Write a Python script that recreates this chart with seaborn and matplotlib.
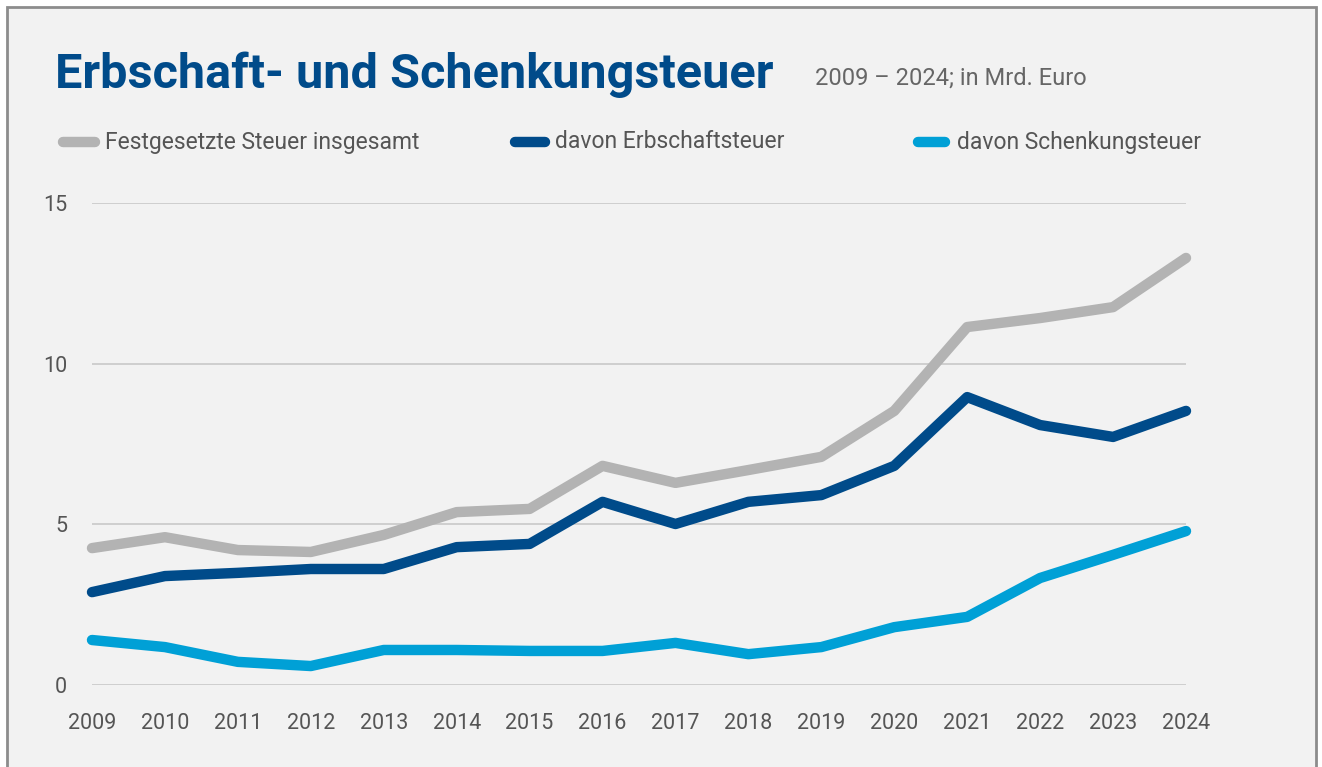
import matplotlib
matplotlib.use("Agg")
import matplotlib.pyplot as plt
from matplotlib.patches import Rectangle
from matplotlib.lines import Line2D
import pandas as pd
import seaborn as sns

# Daten (Mrd. Euro)
jahre = list(range(2009, 2025))
gesamt = [4.26, 4.60, 4.20, 4.14, 4.67, 5.38, 5.48, 6.82, 6.29, 6.69, 7.10, 8.53, 11.14, 11.42, 11.76, 13.29]
erbschaft = [2.89, 3.39, 3.49, 3.61, 3.61, 4.29, 4.39, 5.70, 5.01, 5.70, 5.91, 6.82, 8.96, 8.09, 7.72, 8.53]
schenkung = [1.40, 1.18, 0.72, 0.59, 1.09, 1.09, 1.06, 1.06, 1.31, 0.96, 1.18, 1.80, 2.12, 3.33, 4.05, 4.79]
serien = ["Festgesetzte Steuer insgesamt", "davon Erbschaftsteuer", "davon Schenkungsteuer"]
farben = ["#b3b3b3", "#004b8a", "#00a0d6"]

df = pd.DataFrame({"Jahr": jahre, serien[0]: gesamt, serien[1]: erbschaft, serien[2]: schenkung})
df = df.melt("Jahr", var_name="Serie", value_name="Wert")

sns.set_style("white")
plt.rcParams["font.family"] = ["Roboto", "DejaVu Sans"]

W, H = 1322, 767
fig = plt.figure(figsize=(W / 100, H / 100), dpi=100, facecolor="white")
fig.patches.append(Rectangle((7 / W, -0.1), (1316 - 7) / W, 1.1 - 7 / H, transform=fig.transFigure,
                             facecolor="#f2f2f2", edgecolor="#8c8c8c", linewidth=2, zorder=-10))

ax = fig.add_axes([92 / W, 1 - 685 / H, (1186 - 92) / W, (685 - 203) / H])
ax.set_facecolor("none")
sns.lineplot(data=df, x="Jahr", y="Wert", hue="Serie", hue_order=serien, palette=farben,
             linewidth=7.5, ax=ax, legend=False)
for line in ax.lines:
    line.set_solid_capstyle("round")
    line.set_solid_joinstyle("round")
    line.set_clip_on(False)

ax.set_xlim(2009, 2024)
ax.set_ylim(0, 15)
ax.set_yticks([0, 5, 10, 15])
ax.set_xticks(jahre)
ax.yaxis.grid(True, color="#c8c8c8", linewidth=1.2)
ax.set_axisbelow(True)
for s in ax.spines.values():
    s.set_visible(False)
ax.tick_params(axis="both", length=0, labelsize=15.5, labelcolor="#555555")
ax.tick_params(axis="y", pad=18)
ax.tick_params(axis="x", pad=20)
ax.set_xlabel("")
ax.set_ylabel("")

fig.text(55 / W, 1 - 88 / H, "Erbschaft- und Schenkungsteuer", fontsize=35, fontweight="bold",
         color="#004b8a", va="baseline")
fig.text(815 / W, 1 - 85 / H, "2009 – 2024; in Mrd. Euro", fontsize=17, color="#666666", va="baseline")

# Legende
leg_x = [(63, 95, 105), (515, 545, 555), (918, 945, 957)]
for (x0, x1, xt), farbe, name in zip(leg_x, farben, serien):
    fig.add_artist(Line2D([x0 / W, x1 / W], [1 - 142 / H] * 2, color=farbe, linewidth=7.5,
                          solid_capstyle="round", transform=fig.transFigure))
    fig.text(xt / W, 1 - 142 / H, name, fontsize=16.5, color="#555555", va="center")

fig.savefig("out.png", dpi=100, facecolor=fig.get_facecolor())
